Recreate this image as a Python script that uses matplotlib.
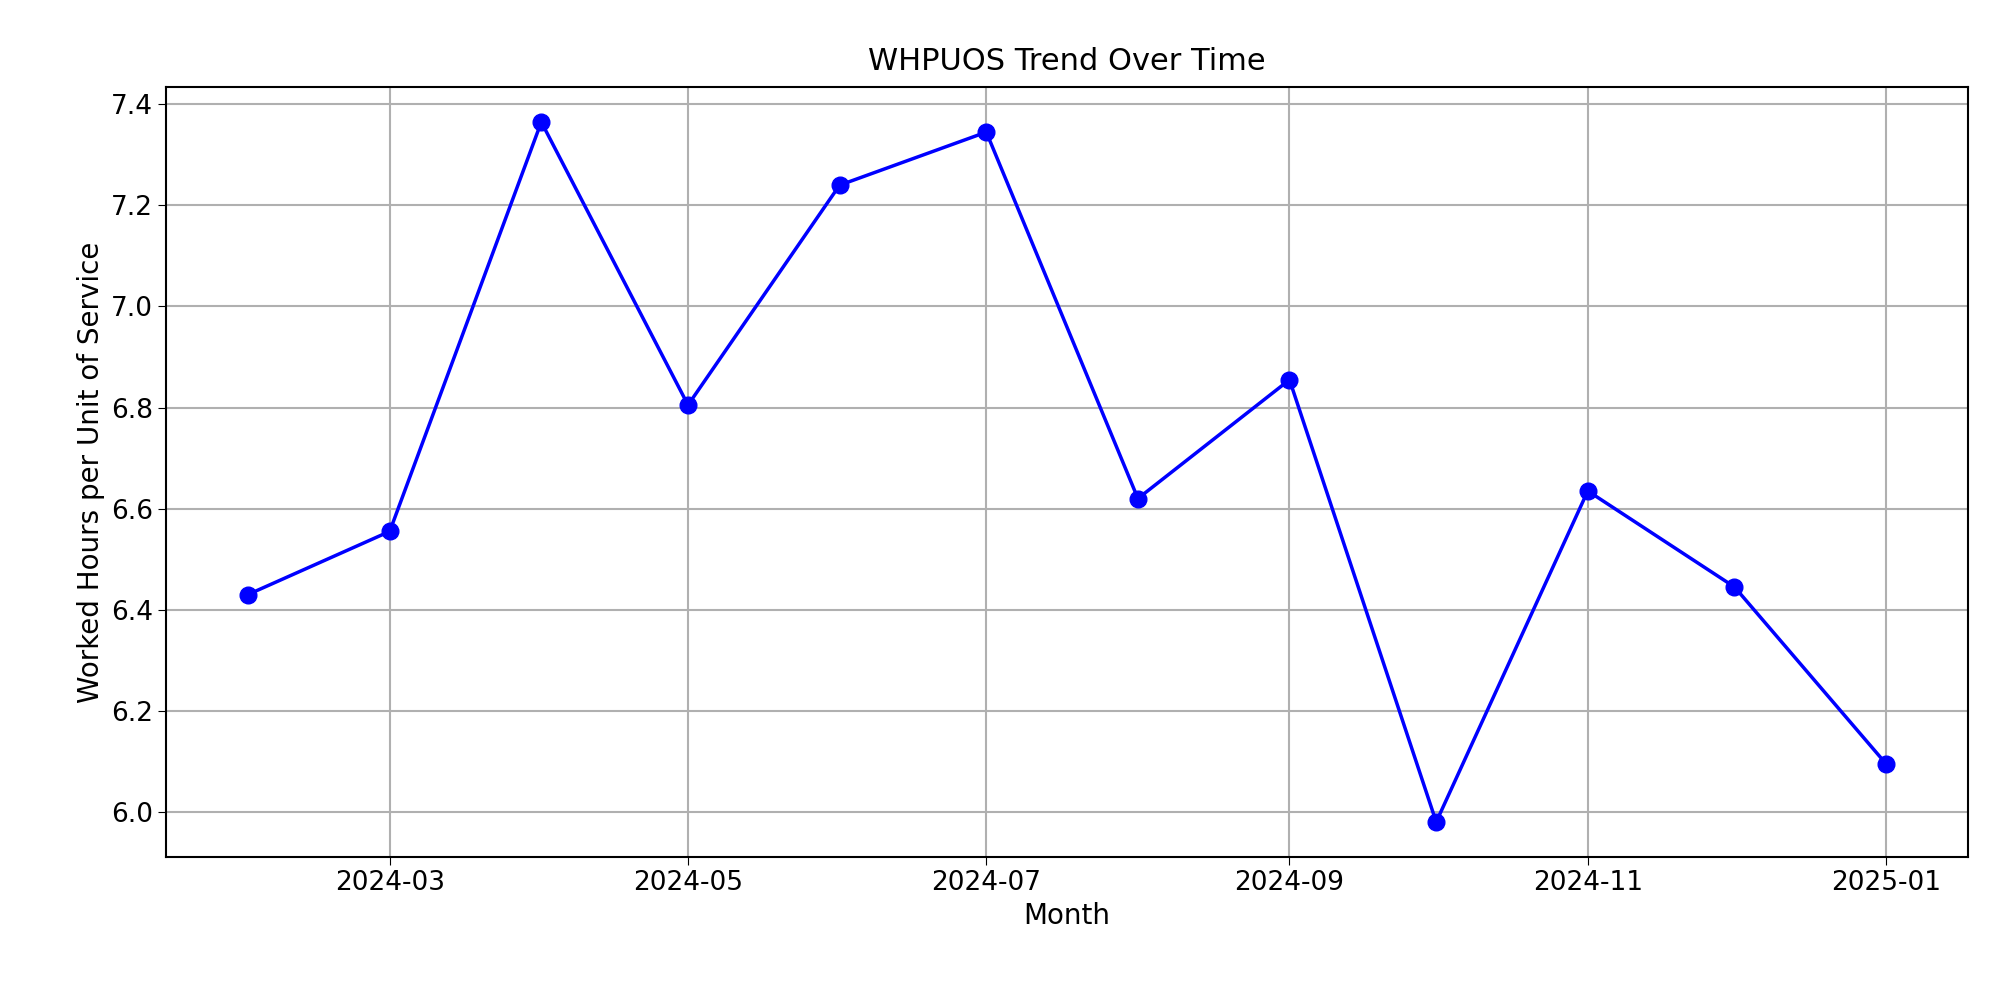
import matplotlib
matplotlib.use("Agg")
import matplotlib.pyplot as plt
import matplotlib.dates as mdates
import pandas as pd

months = pd.date_range("2024-02-01", "2025-01-01", freq="MS")
values = [6.43, 6.555, 7.365, 6.805, 7.24, 7.345, 6.62, 6.855, 5.98, 6.635, 6.445, 6.095]

fig = plt.figure(figsize=(20, 10), dpi=100)
ax = fig.add_axes([0.083, 0.143, 0.901, 0.77])
ax.plot(months, values, color="blue", marker="o", markersize=12, linewidth=2.5)
ax.set_title("WHPUOS Trend Over Time", fontsize=22, pad=12)
ax.set_xlabel("Month", fontsize=20)
ax.set_ylabel("Worked Hours per Unit of Service", fontsize=20)
ax.xaxis.set_major_locator(mdates.MonthLocator(bymonth=[1, 3, 5, 7, 9, 11]))
ax.xaxis.set_major_formatter(mdates.DateFormatter("%Y-%m"))
ax.tick_params(labelsize=19, length=6)
ax.grid(True, color="#b0b0b0", linewidth=1.5)
for s in ax.spines.values():
    s.set_linewidth(1.5)
fig.savefig("out.png")
